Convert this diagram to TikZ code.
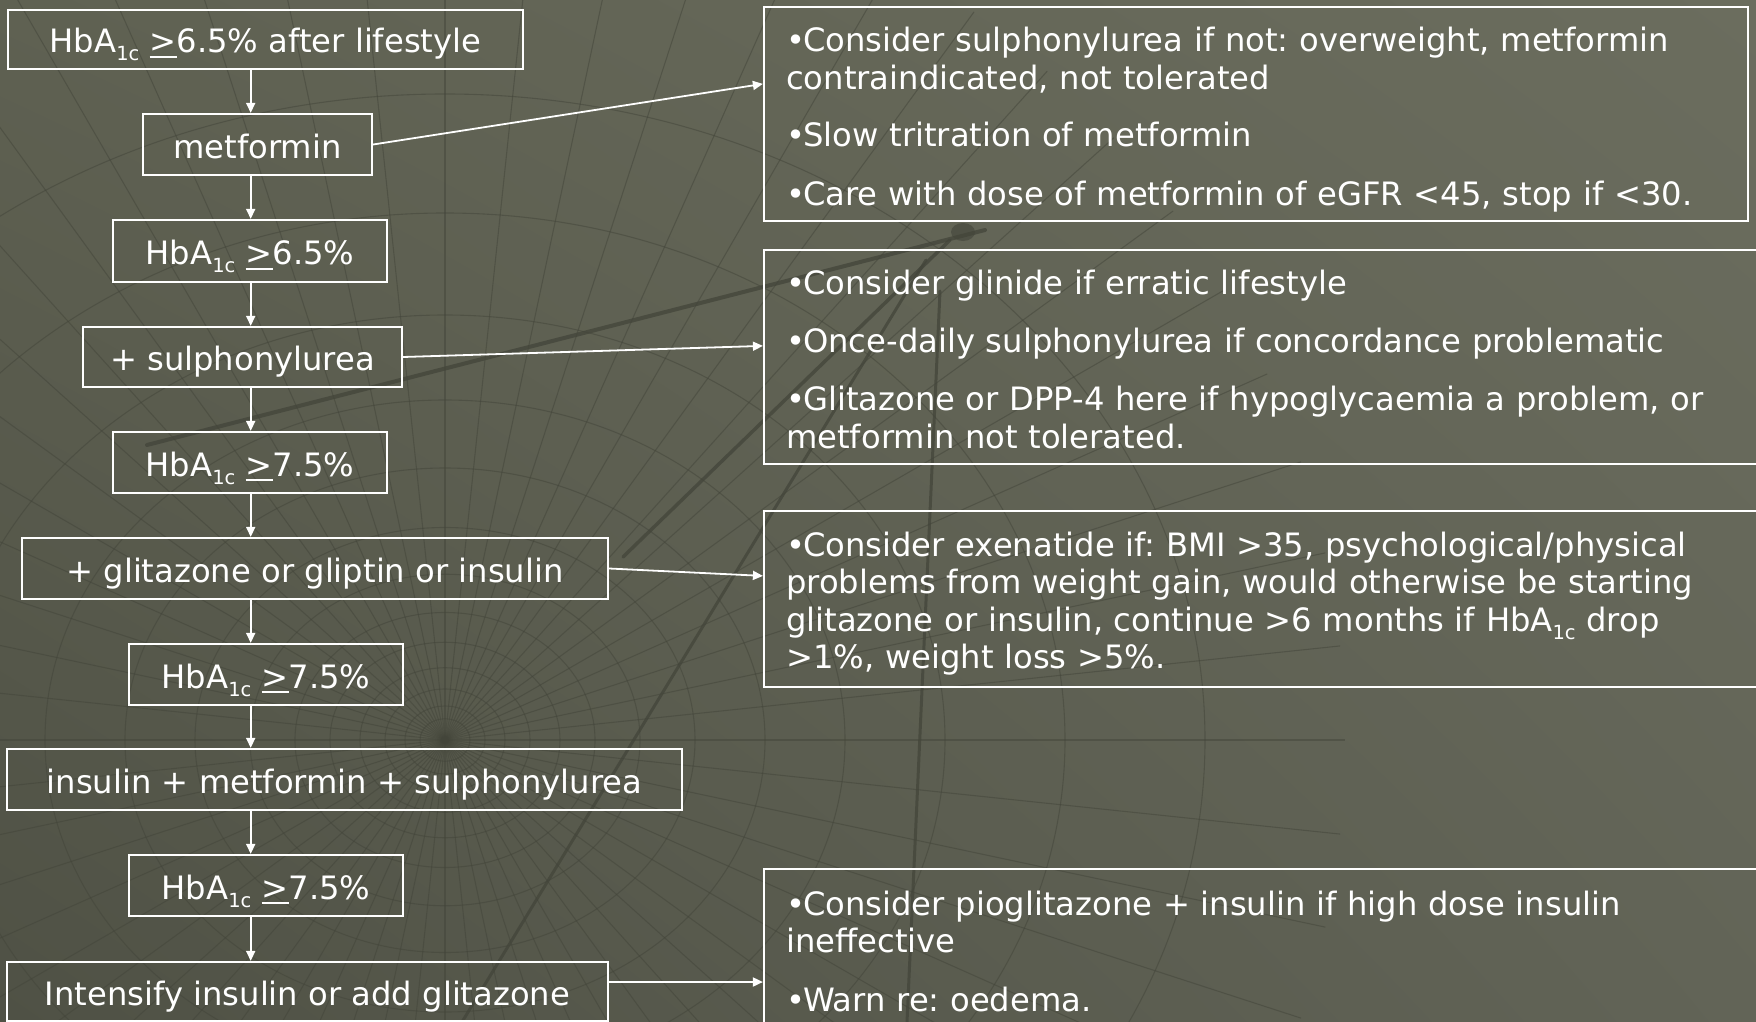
\documentclass[tikz,border=0pt]{standalone}
\usepackage{fontspec}
\setmainfont{DejaVu Sans}
\usetikzlibrary{arrows.meta,shadings}
\definecolor{bgUL}{HTML}{5F6152}
\definecolor{bgUR}{HTML}{6B6D5E}
\definecolor{bgLL}{HTML}{4F5145}
\definecolor{bgLR}{HTML}{626457}
\definecolor{gridc}{HTML}{43453A}
\newcommand\ugt{\setbox0\hbox{>}\rlap{\rule[-5pt]{\wd0}{2pt}}\box0\relax}
\newcommand\hbsub[1]{\raisebox{-8pt}{\fontsize{19.5}{19.5}\selectfont #1}}
\newcommand\bul{•\kern-2pt}
\newcommand\lfont{\fontsize{32.2}{37.5}\selectfont\frenchspacing}
\newcommand\rfont{\fontsize{32.2}{37.5}\selectfont\frenchspacing}
\begin{document}
\begin{tikzpicture}[x=1pt,y=-1pt,
  lbox/.style={draw=white, line width=2.2pt, inner sep=0pt, text=white, font=\lfont, text height=27pt, text depth=0pt},
  rbox/.style={draw=white, line width=2.2pt, inner sep=0pt},
  rtext/.style={text=white, font=\rfont, inner sep=0pt, text width=1000pt, align=left, anchor=base west},
  arr/.style={draw=white, line width=1.8pt, -{Triangle[length=10pt,width=9pt]}},
  gridline/.style={draw=gridc, line width=1.1pt, opacity=0.5},
  bigline/.style={draw=gridc, opacity=0.75, line cap=round}
]
\useasboundingbox (0,0) rectangle (1756,1022);
\shade[upper left=bgUL, upper right=bgUR, lower left=bgLL, lower right=bgLR] (0,0) rectangle (1756,1022);

% background globe grid
\begin{scope}
\clip (0,0) rectangle (1756,1022);
\coordinate (C) at (445,740);
\foreach \a in {0,6,...,354} \draw[gridline] (C) -- ++(\a:900);
\foreach \r in {25,40,60,85,115,150,195,250,320,400,500,620,760}
  \draw[gridline] (C) ellipse [x radius=\r, y radius=0.85*\r];
\draw[bigline, line width=4pt] (147,445) -- (985,230);
\draw[bigline, line width=3.5pt] (623,557) -- (950,240);
\draw[bigline, line width=3pt] (462,1022) -- (926,260);
\draw[bigline, line width=3pt] (907,1022) -- (940,291);
\fill[gridc, opacity=0.6] (963,232) ellipse [x radius=12, y radius=9];
\end{scope}

% left column
\node[lbox, minimum width=515pt, minimum height=59pt] (b1) at (265.5,39.5) {HbA\hbsub{1c} \ugt6.5\% after lifestyle};
\node[lbox, minimum width=229pt, minimum height=61pt] (b2) at (257.5,144.5) {metformin};
\node[lbox, minimum width=274pt, minimum height=62pt] (b3) at (250,251) {HbA\hbsub{1c} \ugt6.5\%};
\node[lbox, minimum width=319pt, minimum height=60pt] (b4) at (242.5,357) {+ sulphonylurea};
\node[lbox, minimum width=274pt, minimum height=61pt] (b5) at (250,462.5) {HbA\hbsub{1c} \ugt7.5\%};
\node[lbox, minimum width=586pt, minimum height=61pt] (b6) at (315,568.5) {+ glitazone or gliptin or insulin};
\node[lbox, minimum width=274pt, minimum height=61pt] (b7) at (266,674.5) {HbA\hbsub{1c} \ugt7.5\%};
\node[lbox, minimum width=675pt, minimum height=61pt] (b8) at (344.5,779.5) {insulin + metformin + sulphonylurea};
\node[lbox, minimum width=274pt, minimum height=61pt] (b9) at (266,885.5) {HbA\hbsub{1c} \ugt7.5\%};
\node[lbox, minimum width=601pt, minimum height=59pt] (b10) at (307.5,991.5) {Intensify insulin or add glitazone};

\coordinate (ax) at (250.7,0);
\draw[arr] (ax |- b1.south) -- (ax |- b2.north);
\draw[arr] (ax |- b2.south) -- (ax |- b3.north);
\draw[arr] (ax |- b3.south) -- (ax |- b4.north);
\draw[arr] (ax |- b4.south) -- (ax |- b5.north);
\draw[arr] (ax |- b5.south) -- (ax |- b6.north);
\draw[arr] (ax |- b6.south) -- (ax |- b7.north);
\draw[arr] (ax |- b7.south) -- (ax |- b8.north);
\draw[arr] (ax |- b8.south) -- (ax |- b9.north);
\draw[arr] (ax |- b9.south) -- (ax |- b10.north);

% right column
\node[rbox, minimum width=984pt, minimum height=214pt] (r1) at (1256,114) {};
\node[rbox, minimum width=1000pt, minimum height=214pt] (r2) at (1264,357) {};
\node[rbox, minimum width=1000pt, minimum height=176pt] (r3) at (1264,599) {};
\node[rbox, minimum width=1000pt, minimum height=171pt] (r4) at (1264,954.5) {};

\node[rtext] (t1) at (786,52) {\bul Consider sulphonylurea if not: overweight, metformin\\contraindicated, not tolerated\\[20pt]\bul Slow tritration of metformin\\[21pt]\bul Care with dose of metformin of eGFR <45, stop if <30.};
\node[rtext] (t2) at (786,294) {\bul Consider glinide if erratic lifestyle\\[20.5pt]\bul Once-daily sulphonylurea if concordance problematic\\[21pt]\bul Glitazone or DPP-4 here if hypoglycaemia a problem, or\\metformin not tolerated.};
\node[rtext] (t3) at (786,556) {\bul Consider exenatide if: BMI >35, psychological/physical\\problems from weight gain, would otherwise be starting\\glitazone or insulin, continue >6 months if HbA\hbsub{1c} drop\\>1\%, weight loss >5\%.};
\node[rtext] (t4) at (786,915) {\bul Consider pioglitazone + insulin if high dose insulin\\ineffective\\[21pt]\bul Warn re: oedema.};

\draw[arr] (b2.east) -- ([yshift=-78pt]r1.north west);
\draw[arr] (b4.east) -- ([yshift=-97pt]r2.north west);
\draw[arr] (b6.east) -- ([yshift=-66pt]r3.north west);
\draw[arr] ([yshift=9.5pt]b10.east) -- ([yshift=9.5pt]b10.east -| r4.west);
\end{tikzpicture}
\end{document}
